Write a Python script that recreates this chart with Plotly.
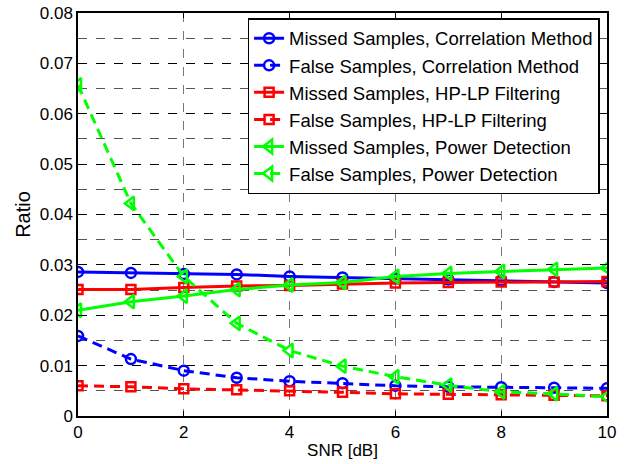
import plotly.graph_objects as go

snr = [0, 1, 2, 3, 4, 5, 6, 7, 8, 9, 10]
missed_corr = [0.0286, 0.0284, 0.0282, 0.0281, 0.0277, 0.0275, 0.0273, 0.0271, 0.0269, 0.0266, 0.0264]
false_corr = [0.0159, 0.0113, 0.0090, 0.0076, 0.0069, 0.0065, 0.0060, 0.0058, 0.0057, 0.0056, 0.0055]
missed_hplp = [0.0251, 0.0251, 0.0255, 0.0258, 0.0259, 0.0262, 0.0264, 0.0265, 0.0266, 0.0266, 0.0267]
false_hplp = [0.0060, 0.0058, 0.0054, 0.0052, 0.0050, 0.0047, 0.0044, 0.0043, 0.0042, 0.0041, 0.0040]
missed_power = [0.0210, 0.0227, 0.0238, 0.0251, 0.0260, 0.0265, 0.0277, 0.0283, 0.0287, 0.0291, 0.0294]
false_power = [0.0657, 0.0422, 0.0277, 0.0184, 0.0130, 0.0099, 0.0078, 0.0061, 0.0048, 0.0044, 0.0038]

names = ["Missed Samples, Correlation Method", "False Samples, Correlation Method",
         "Missed Samples, HP-LP Filtering", "False Samples, HP-LP Filtering",
         "Missed Samples, Power Detection", "False Samples, Power Detection"]
series = [missed_corr, false_corr, missed_hplp, false_hplp, missed_power, false_power]
colors = ["#0000FF", "#0000FF", "#FF0000", "#FF0000", "#00FF00", "#00FF00"]
symbols = ["circle-open", "circle-open", "square-open", "square-open",
           "triangle-left-open", "triangle-left-open"]
msizes = [10, 10, 9, 9, 12, 12]
dashes = ["solid", "10px,6px", "solid", "10px,6px", "solid", "10px,6px"]

fig = go.Figure()
for n, s, c, sym, ms, d in zip(names, series, colors, symbols, msizes, dashes):
    fig.add_trace(go.Scatter(
        x=snr, y=s, name=n, mode="lines+markers",
        line=dict(color=c, width=3, dash=d),
        marker=dict(symbol=sym, size=ms, color=c, line=dict(width=2.5, color=c)),
    ))

fig.update_layout(
    width=626, height=464,
    margin=dict(l=78, r=19, t=13, b=48),
    paper_bgcolor="white", plot_bgcolor="white",
    font=dict(family="Arial, Liberation Sans", size=17, color="black"),
    showlegend=True,
    legend=dict(x=0.986, y=0.987, xanchor="right", yanchor="top",
                bgcolor="white", bordercolor="black", borderwidth=1.5,
                font=dict(size=18.5), tracegroupgap=0, itemwidth=30),
)
fig.update_xaxes(
    range=[0, 10], tickvals=[0, 2, 4, 6, 8, 10], automargin=False,
    showline=True, linecolor="black", linewidth=1.5, mirror="ticks",
    ticks="inside", ticklen=5, tickcolor="black",
    showgrid=True, gridcolor="#777777", griddash="dash", gridwidth=1.2,
    zeroline=False,
    title=dict(text="SNR [dB]", standoff=3, font=dict(size=17)),
)
fig.update_yaxes(
    range=[0, 0.08], tickvals=[0, 0.01, 0.02, 0.03, 0.04, 0.05, 0.06, 0.07, 0.08],
    ticktext=["0", "0.01", "0.02", "0.03", "0.04", "0.05", "0.06", "0.07", "0.08"],
    automargin=False,
    showline=True, linecolor="black", linewidth=1.5, mirror="ticks",
    ticks="inside", ticklen=5, tickcolor="black",
    showgrid=True, gridcolor="black", griddash="dash", gridwidth=1.2,
    minor=dict(tickvals=[0.005, 0.015, 0.025, 0.035, 0.045, 0.055, 0.065, 0.075],
               showgrid=True, gridcolor="#555555", griddash="dash", gridwidth=0.8),
    zeroline=False,
    title=dict(text="Ratio", standoff=4, font=dict(size=20)),
)

fig.write_html("out.html")
